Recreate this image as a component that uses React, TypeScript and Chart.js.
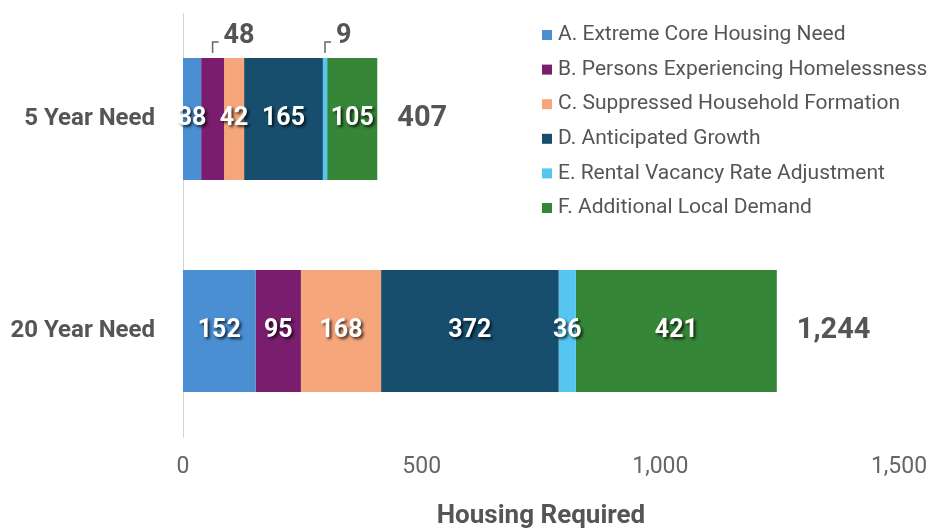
import React, { useEffect, useRef } from "react";
import { Chart, registerables } from "chart.js";

Chart.register(...registerables);

const categories = ["5 Year Need", "20 Year Need"];
const seriesNames = [
  "A. Extreme Core Housing Need",
  "B. Persons Experiencing Homelessness",
  "C. Suppressed Household Formation",
  "D. Anticipated Growth",
  "E. Rental Vacancy Rate Adjustment",
  "F. Additional Local Demand",
];
const seriesColors = ["#4a8fd2", "#7a1d6e", "#f5a67b", "#174e6e", "#55c6f0", "#358636"];
const valuesA = [38, 152];
const valuesB = [48, 95];
const valuesC = [42, 168];
const valuesD = [165, 372];
const valuesE = [9, 36];
const valuesF = [105, 421];
const totals = [407, 1244];
// which segments get their label placed above the bar with a bracket
const calloutFiveYear = [false, true, false, false, true, false];
const calloutTwentyYear = [false, false, false, false, false, false];
const xTicks = [0, 500, 1000, 1500];

const FONT = "Roboto, 'Noto Sans', sans-serif";

export default function App() {
  const ref = useRef<HTMLCanvasElement | null>(null);

  useEffect(() => {
    document.body.style.margin = "0";
    const canvas = ref.current;
    if (!canvas) return;
    const allValues = [valuesA, valuesB, valuesC, valuesD, valuesE, valuesF];
    const callouts = [calloutFiveYear, calloutTwentyYear];

    const labelPlugin = {
      id: "labels",
      afterDatasetsDraw(chart: any) {
        const ctx = chart.ctx;
        ctx.save();
        chart.data.datasets.forEach((ds: any, di: number) => {
          const meta = chart.getDatasetMeta(di);
          meta.data.forEach((bar: any, i: number) => {
            const v = ds.data[i];
            const left = bar.base;
            const right = bar.x;
            const cx = (left + right) / 2;
            const top = bar.y - bar.height / 2;
            if (callouts[i][di]) {
              ctx.strokeStyle = "#666";
              ctx.lineWidth = 1.5;
              ctx.beginPath();
              ctx.moveTo(cx, top - 5);
              ctx.lineTo(cx, top - 16);
              ctx.lineTo(cx + 6, top - 16);
              ctx.stroke();
              ctx.fillStyle = "#555";
              ctx.font = `bold 27px ${FONT}`;
              ctx.textAlign = "left";
              ctx.textBaseline = "middle";
              ctx.fillText(String(v), cx + 11, top - 22);
            } else {
              ctx.save();
              ctx.shadowColor = "rgba(0,0,0,0.75)";
              ctx.shadowOffsetX = 2;
              ctx.shadowOffsetY = 2;
              ctx.shadowBlur = 3;
              ctx.fillStyle = "#ffffff";
              ctx.font = `bold 25px ${FONT}`;
              ctx.textAlign = "center";
              ctx.textBaseline = "middle";
              ctx.fillText(String(v), cx, bar.y);
              ctx.restore();
            }
          });
        });
        // totals
        const lastMeta = chart.getDatasetMeta(chart.data.datasets.length - 1);
        lastMeta.data.forEach((bar: any, i: number) => {
          ctx.fillStyle = "#555";
          ctx.font = `bold 29px ${FONT}`;
          ctx.textAlign = "left";
          ctx.textBaseline = "middle";
          ctx.fillText(totals[i].toLocaleString("en-US"), bar.x + 20, bar.y);
        });
        // legend
        ctx.font = `21px ${FONT}`;
        ctx.textAlign = "left";
        ctx.textBaseline = "middle";
        seriesNames.forEach((name, k) => {
          const y = 35 + k * 34.6;
          ctx.fillStyle = seriesColors[k];
          ctx.fillRect(542, y - 5, 10, 10);
          ctx.fillStyle = "#555";
          ctx.fillText(name, 558, y);
        });
        ctx.restore();
      },
    };

    const chart = new Chart(canvas, {
      type: "bar",
      data: {
        labels: categories,
        datasets: allValues.map((vals, k) => ({
          label: seriesNames[k],
          data: vals,
          backgroundColor: seriesColors[k],
          borderWidth: 0,
          barPercentage: 0.575,
          categoryPercentage: 1,
        })),
      },
      options: {
        indexAxis: "y",
        animation: false,
        responsive: false,
        maintainAspectRatio: false,
        layout: { padding: { top: 13, right: 36, left: 0, bottom: 0 } },
        plugins: {
          legend: { display: false },
          tooltip: { enabled: false },
        },
        scales: {
          x: {
            stacked: true,
            min: 0,
            max: 1500,
            afterBuildTicks(scale: any) {
              scale.ticks = xTicks.map((v) => ({ value: v }));
            },
            afterFit(scale: any) {
              scale.height = 95;
              scale.paddingRight = 0;
              scale.paddingLeft = 0;
            },
            grid: { display: false, drawTicks: false },
            border: { display: false },
            ticks: {
              padding: 16,
              color: "#666",
              font: { family: FONT, size: 23 },
              callback: (v: any) => Number(v).toLocaleString("en-US"),
            },
            title: {
              display: true,
              text: "Housing Required",
              color: "#555",
              font: { family: FONT, size: 26, weight: "bold" },
              padding: { top: 10, bottom: 0 },
            },
          },
          y: {
            stacked: true,
            afterFit(scale: any) {
              scale.width = 183;
              scale.paddingTop = 0;
              scale.paddingBottom = 0;
            },
            grid: { display: false, drawTicks: false },
            border: { display: true, color: "#d4d4d4", width: 1 },
            ticks: {
              padding: 28,
              color: "#555",
              font: { family: FONT, size: 24, weight: "bold" },
            },
          },
        },
      },
      plugins: [labelPlugin],
    } as any);
    return () => chart.destroy();
  }, []);

  return (
    <div style={{ position: "fixed", left: 0, top: 0, width: 935, height: 532, background: "#fff" }}>
      <canvas ref={ref} width={935} height={532} style={{ width: 935, height: 532 }} />
    </div>
  );
}
